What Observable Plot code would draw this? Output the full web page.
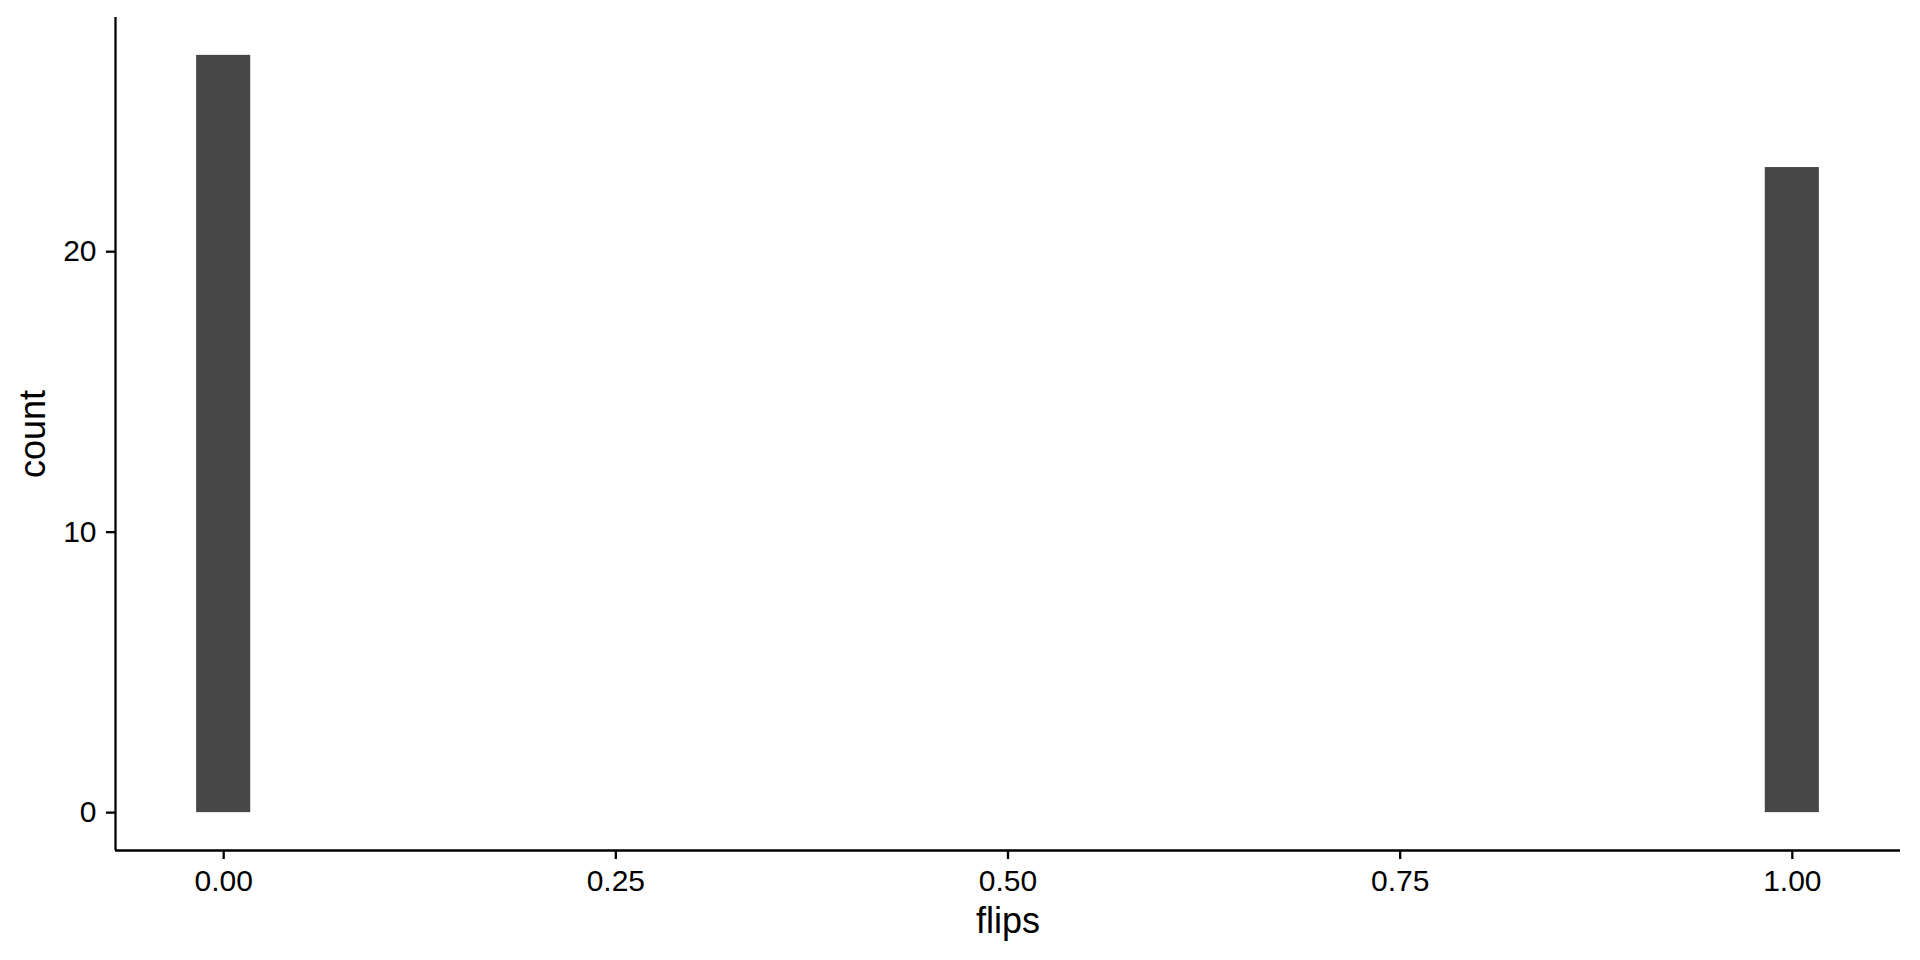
<!DOCTYPE html>
<html>
<head>
<meta charset="utf-8">
<script src="https://cdn.jsdelivr.net/npm/d3@7"></script>
<script src="https://cdn.jsdelivr.net/npm/@observablehq/plot@0.6"></script>
<style>
  html, body { margin: 0; padding: 0; background: #ffffff; }
  svg { display: block; }
</style>
</head>
<body>
<div id="chart"></div>
<script>
// Data
const flipsValues = [0, 1];
const counts = [27, 23];
const xTicks = [0, 0.25, 0.5, 0.75, 1];
const yTicks = [0, 10, 20];
const nBins = 30;
const xLabel = "flips";
const yLabel = "count";

const binWidth = (d3.max(flipsValues) - d3.min(flipsValues)) / (nBins - 1);
const rows = flipsValues.map((v, i) => ({ x1: v - binWidth / 2, x2: v + binWidth / 2, count: counts[i] }));

// ggplot-like 5% expansion
const xMin = d3.min(rows, d => d.x1), xMax = d3.max(rows, d => d.x2);
const xPad = (xMax - xMin) * 0.05;
const xDomain = [xMin - xPad, xMax + xPad];
const yMax = d3.max(counts);
const yDomain = [-yMax * 0.05, yMax * 1.05];

const font = "'Liberation Sans', Arial, sans-serif";

const chart = Plot.plot({
  width: 1920,
  height: 960,
  marginLeft: 115,
  marginRight: 20,
  marginTop: 17,
  marginBottom: 110,
  style: { fontFamily: font, fontSize: "30px", background: "#ffffff", color: "#000000" },
  x: { domain: xDomain },
  y: { domain: yDomain },
  marks: [
    Plot.rectY(rows, { x1: "x1", x2: "x2", y: "count", fill: "#474747" }),
    Plot.ruleY([yDomain[0]], { stroke: "#000000", strokeWidth: 2.3 }),
    Plot.ruleX([xDomain[0]], { stroke: "#000000", strokeWidth: 2.3 }),
    Plot.axisX({ ticks: xTicks, tickFormat: d3.format(".2f"), tickSize: 9, tickPadding: 10, fontSize: 30, strokeWidth: 2.3, label: null }),
    Plot.axisY({ ticks: yTicks, tickFormat: d3.format("d"), tickSize: 9, tickPadding: 10, fontSize: 30, strokeWidth: 2.3, label: null }),
    Plot.text([xLabel], { text: d => d, frameAnchor: "bottom", lineAnchor: "bottom", dy: 82, fontSize: 36, fill: "#000000" }),
    Plot.text([yLabel], { text: d => d, frameAnchor: "left", textAnchor: "middle", rotate: -90, dx: -82, fontSize: 36, fill: "#000000" })
  ]
});
document.getElementById("chart").appendChild(chart);
</script>
</body>
</html>
